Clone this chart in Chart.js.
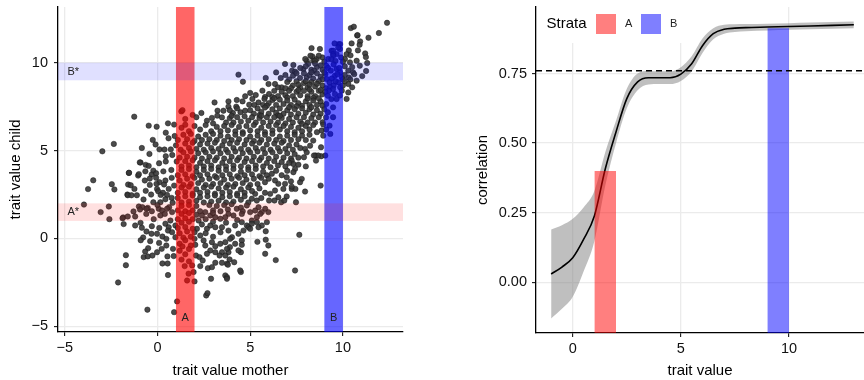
<!DOCTYPE html>
<html>
<head>
<meta charset="utf-8">
<script src="https://cdn.jsdelivr.net/npm/chart.js@4.4.1/dist/chart.umd.min.js"></script>
<style>
  html, body { margin: 0; padding: 0; background: #fff; }
  #wrap { position: relative; width: 864px; height: 380px; overflow: hidden; }
  #left { position: absolute; left: 0; top: 0; }
  #right { position: absolute; left: 430px; top: 0; }
</style>
</head>
<body>
<div id="wrap">
  <canvas id="left" width="430" height="380"></canvas>
  <canvas id="right" width="434" height="380"></canvas>
</div>
<script>
// ---- left panel: trait value mother (x) vs child (y) ----
const scatterPoints = [
  [10.43,11.97],[10.59,12.05],[11.94,11.69],[12.38,12.27],[10.77,11.55],[11.38,11.42],
  [10.47,11.1],[10.93,11.21],[10.9,11.02],[9.77,11.06],[9.85,11.06],[9.84,10.78],[10.81,10.7],[10.32,10.7],[9.39,10.68],[9.48,10.68],[8.31,10.83],[8.76,10.78],[9.75,10.87],[10.2,10.49],[10.41,10.42],[9.66,10.49],[11.2,10.53],[11.24,10.32],[9.47,10.49],[8.35,10.36],[10.79,11.57],[9.55,11.1],
  [9.48,10.4],[9.21,10.21],[8.4,10.11],[8.05,10.11],[8.59,10.21],[10.11,10.21],[10.38,10.02],[10.74,10.11],[9.38,10.2],[7.97,10.21],[8.49,10.11],[8.9,10.3],[9.0,10.05],[8.7,10.4],[9.9,10.3],[10.0,10.05],[9.6,10.1],[8.25,10.4],
  [10.91,9.83],[11.31,9.98],[9.1,9.83],[7.33,9.87],[6.88,9.93],[8.13,9.93],[7.87,9.64],[7.26,9.55],[7.42,9.49],[9.66,9.64],[10.29,9.55],[10.55,9.45],[11.25,9.53],[8.3,9.6],[8.6,9.75],[8.9,9.6],[9.2,9.7],[9.5,9.9],[9.8,9.7],[10.1,9.8],[8.0,9.8],[8.5,9.95],[8.8,9.85],[7.7,9.7],[10.5,9.75],[9.35,9.55],[8.45,9.55],
  [4.37,9.32],[5.84,9.13],[6.65,9.13],[6.4,9.45],[7.31,9.26],[7.69,9.13],[8.05,9.17],[11.04,9.24],[10.61,9.35],[10.32,9.16],[9.57,9.26],[9.85,9.45],[9.06,9.36],[9.13,9.07],[9.94,9.17],[7.9,9.4],[8.2,9.3],[8.4,9.1],[8.6,9.4],[8.8,9.2],[9.0,9.45],[9.4,9.1],[9.7,9.35],[10.1,9.3],[10.0,9.05],[7.5,9.4],[8.3,9.45],[8.9,9.05],[10.4,9.05],[6.9,9.3],[7.1,9.05],
  [4.61,8.92],[5.99,8.79],[6.34,8.79],[6.7,8.6],[10.74,8.98],[10.29,8.79],[9.75,8.88],[9.28,8.88],[9.85,8.6],[7.0,8.9],[7.3,8.7],[7.5,8.95],[7.7,8.6],[7.9,8.85],[8.1,8.6],[8.3,8.9],[8.5,8.65],[8.7,8.95],[8.9,8.7],[9.1,8.55],[9.5,8.7],[10.0,8.7],[10.1,8.95],[6.9,8.55],[7.2,8.55],[8.0,8.95],[8.6,8.8],[9.3,8.6],[10.5,8.6],[6.5,8.6],[9.6,8.95],[8.2,8.75],[7.6,8.75],
  [5.0,8.28],[5.3,8.16],[4.73,8.09],[5.66,8.41],[6.02,8.22],[10.29,8.31],[9.84,8.13],[9.47,8.5],[9.19,8.12],[9.94,8.41],[9.24,8.41],[9.57,8.22],[6.3,8.4],[6.5,8.1],[6.7,8.35],[6.9,8.15],[7.1,8.4],[7.3,8.1],[7.5,8.35],[7.7,8.15],[7.9,8.4],[8.1,8.1],[8.3,8.35],[8.5,8.1],[8.7,8.4],[8.9,8.2],[6.2,8.05],[7.6,8.45],[8.2,8.47],[8.8,8.45],[9.05,8.35],[5.8,8.05],[7.0,8.02],[8.4,8.0],
  [4.28,7.88],[3.83,7.8],[3.08,7.74],[4.59,7.8],[5.12,7.94],[4.95,7.61],[5.22,7.6],[5.45,7.74],[5.77,7.94],[6.2,7.88],[9.38,7.93],[9.1,7.65],[9.66,7.93],[10.2,7.94],[3.83,7.5],[4.25,7.5],[5.7,7.6],[6.0,7.7],[6.4,7.6],[6.6,7.9],[6.8,7.65],[7.0,7.85],[7.2,7.6],[7.4,7.9],[7.6,7.7],[7.8,7.55],[8.0,7.8],[8.2,7.6],[8.4,7.85],[8.6,7.6],[8.8,7.8],[8.9,7.55],[6.3,7.98],[7.5,7.52],[8.1,7.97],[5.9,7.55],[8.7,7.98],
  [3.24,7.27],[3.56,7.27],[4.07,7.14],[4.48,7.18],[4.73,7.27],[2.37,7.14],[1.29,7.23],[1.9,7.03],[9.47,7.46],[9.19,7.18],[5.0,7.3],[5.2,7.1],[5.4,7.4],[5.6,7.2],[5.8,7.45],[6.0,7.1],[6.2,7.35],[6.4,7.15],[6.6,7.4],[6.8,7.1],[7.0,7.3],[7.2,7.05],[7.4,7.35],[7.6,7.1],[7.8,7.4],[8.0,7.15],[8.2,7.35],[8.4,7.05],[8.6,7.3],[8.8,7.1],[4.3,7.4],[3.9,7.3],[5.5,7.02],[6.5,7.0],[7.1,7.47],[8.3,7.47],[9.0,7.35],[1.35,7.3],
  [2.67,6.7],[2.94,6.86],[3.23,6.99],[3.48,6.89],[9.47,6.9],[9.09,6.89],[8.91,6.61],[3.7,6.6],[3.9,6.85],[4.1,6.6],[4.3,6.9],[4.5,6.65],[4.7,6.95],[4.9,6.7],[5.1,6.9],[5.3,6.6],[5.5,6.85],[5.7,6.6],[5.9,6.9],[6.1,6.65],[6.3,6.9],[6.5,6.6],[6.7,6.85],[6.9,6.55],[7.1,6.8],[7.3,6.6],[7.5,6.9],[7.7,6.65],[7.9,6.9],[8.1,6.6],[8.3,6.85],[8.5,6.6],[8.7,6.9],[2.1,6.9],[1.5,6.8],[3.0,6.55],[4.0,6.98],[5.6,6.98],[6.6,6.98],[7.8,6.52],[-1.25,6.93],
  [-0.47,6.42],[-0.04,6.36],[0.57,6.55],[0.9,6.48],[0.45,6.02],[9.28,6.42],[8.85,6.14],[8.94,6.48],[1.3,6.3],[1.7,6.1],[2.0,6.4],[2.3,6.2],[2.6,6.45],[2.9,6.1],[3.2,6.35],[3.4,6.1],[3.6,6.4],[3.8,6.15],[4.0,6.45],[4.2,6.1],[4.4,6.35],[4.6,6.05],[4.8,6.4],[5.0,6.15],[5.2,6.45],[5.4,6.1],[5.6,6.3],[5.8,6.05],[6.0,6.4],[6.2,6.15],[6.4,6.45],[6.6,6.2],[6.8,6.4],[7.0,6.1],[7.2,6.35],[7.4,6.05],[7.6,6.3],[7.8,6.1],[8.0,6.4],[8.2,6.2],[8.4,6.45],[8.6,6.05],[1.5,6.47],[9.1,6.2],
  [-0.25,5.61],[0.93,5.83],[9.32,5.95],[8.94,5.85],[8.4,5.57],[1.1,5.6],[1.4,5.9],[1.6,5.65],[1.8,5.95],[2.0,5.55],[2.2,5.8],[2.4,5.6],[2.6,5.9],[2.8,5.65],[3.0,5.95],[3.2,5.6],[3.4,5.85],[3.6,5.55],[3.8,5.8],[4.0,5.6],[4.2,5.9],[4.4,5.65],[4.6,5.95],[4.8,5.6],[5.0,5.8],[5.2,5.55],[5.4,5.85],[5.6,5.6],[5.8,5.9],[6.0,5.65],[6.2,5.95],[6.4,5.6],[6.6,5.8],[6.8,5.55],[7.0,5.85],[7.2,5.6],[7.4,5.9],[7.6,5.65],[7.8,5.85],[8.0,5.6],[8.2,5.9],[0.6,5.7],
  [-2.35,5.38],[-0.84,5.15],[0.11,5.07],[0.38,5.06],[0.72,5.07],[-2.97,4.96],[8.82,5.19],[7.96,5.1],[8.23,5.28],[1.0,5.3],[1.25,5.05],[1.5,5.4],[1.7,5.15],[1.9,5.45],[2.1,5.1],[2.3,5.35],[2.5,5.05],[2.7,5.4],[2.9,5.15],[3.1,5.45],[3.3,5.1],[3.5,5.3],[3.7,5.05],[3.9,5.4],[4.1,5.15],[4.3,5.45],[4.5,5.1],[4.7,5.35],[4.9,5.05],[5.1,5.4],[5.3,5.15],[5.5,5.45],[5.7,5.1],[5.9,5.35],[6.1,5.05],[6.3,5.4],[6.5,5.15],[6.7,5.45],[6.9,5.1],[7.1,5.3],[7.3,5.05],[7.5,5.35],[7.7,5.15],[-0.1,5.35],
  [-0.43,4.81],[0.45,4.68],[8.83,4.68],[9.05,4.72],[8.53,4.72],[8.67,4.72],[7.9,4.62],[8.05,4.9],[1.2,4.6],[1.4,4.9],[1.6,4.65],[1.8,4.95],[2.0,4.6],[2.2,4.85],[2.4,4.55],[2.6,4.9],[2.8,4.65],[3.0,4.95],[3.2,4.6],[3.4,4.85],[3.6,4.55],[3.8,4.9],[4.0,4.65],[4.2,4.95],[4.4,4.6],[4.6,4.85],[4.8,4.55],[5.0,4.9],[5.2,4.65],[5.4,4.95],[5.6,4.6],[5.8,4.85],[6.0,4.55],[6.2,4.9],[6.4,4.65],[6.6,4.95],[6.8,4.6],[7.0,4.85],[7.2,4.55],[7.4,4.8],[7.6,4.6],[0.8,4.75],[8.44,4.72],
  [0.45,4.38],[1.04,4.38],[-0.91,4.32],[-0.63,4.19],[-0.47,4.13],[0.09,4.28],[8.55,4.43],[7.24,4.43],[7.33,4.24],[1.3,4.1],[1.5,4.4],[1.7,4.15],[1.9,4.45],[2.1,4.05],[2.3,4.3],[2.5,4.1],[2.7,4.4],[2.9,4.15],[3.1,4.45],[3.3,4.05],[3.5,4.3],[3.7,4.1],[3.9,4.4],[4.1,4.15],[4.3,4.45],[4.5,4.1],[4.7,4.35],[4.9,4.05],[5.1,4.4],[5.3,4.15],[5.5,4.45],[5.7,4.1],[5.9,4.3],[6.1,4.05],[6.3,4.4],[6.5,4.15],[6.7,4.35],[6.9,4.1],[7.1,4.3],[7.6,4.2],[8.0,4.1],[-0.95,4.33],
  [-0.22,3.86],[-1.54,3.73],[-1.04,3.58],[-0.65,3.82],[-0.31,3.64],[-0.07,3.71],[0.32,3.82],[0.75,3.9],[7.42,3.96],[7.33,3.77],[6.17,3.68],[-1.53,3.74],[-1.0,3.66],[1.1,3.6],[1.3,3.9],[1.5,3.65],[1.7,3.95],[1.9,3.55],[2.1,3.8],[2.3,3.6],[2.5,3.9],[2.7,3.65],[2.9,3.95],[3.1,3.55],[3.3,3.85],[3.5,3.6],[3.7,3.9],[3.9,3.65],[4.1,3.95],[4.3,3.55],[4.5,3.8],[4.7,3.6],[4.9,3.9],[5.1,3.65],[5.3,3.95],[5.5,3.55],[5.7,3.8],[5.9,3.6],[6.4,3.85],[6.7,3.6],[7.0,3.85],
  [-3.46,3.31],[-0.68,3.3],[-0.41,3.41],[-0.07,3.45],[0.11,3.2],[0.43,3.3],[0.77,3.45],[-2.46,3.09],[-1.58,3.07],[-1.44,3.03],[-0.41,3.05],[-0.05,3.11],[0.36,3.07],[0.9,3.01],[7.78,3.39],[7.69,3.2],[6.88,3.11],[6.52,3.11],[6.34,3.3],[6.97,3.48],[8.8,3.01],[1.2,3.3],[1.4,3.05],[1.6,3.4],[1.8,3.1],[2.0,3.45],[2.2,3.15],[2.4,3.35],[2.6,3.05],[2.8,3.4],[3.0,3.1],[3.2,3.45],[3.4,3.15],[3.6,3.35],[3.8,3.05],[4.0,3.4],[4.2,3.1],[4.4,3.45],[4.6,3.15],[4.8,3.35],[5.0,3.05],[5.2,3.4],[5.4,3.1],[5.6,3.45],[5.8,3.2],[6.0,3.4],[7.2,3.25],
  [-3.74,2.81],[-2.32,2.79],[-1.24,2.82],[-0.02,2.82],[0.61,2.82],[7.96,2.67],[7.24,2.82],[7.44,2.82],[7.24,2.95],[6.79,2.82],[6.34,2.73],[6.08,2.54],[5.27,2.54],[-0.63,2.71],[0.04,2.69],[-1.62,2.5],[1.1,2.6],[1.3,2.9],[1.5,2.65],[1.7,2.95],[1.9,2.55],[2.1,2.8],[2.3,2.6],[2.5,2.9],[2.7,2.65],[2.9,2.95],[3.1,2.55],[3.3,2.85],[3.5,2.6],[3.7,2.9],[3.9,2.65],[4.1,2.95],[4.3,2.55],[4.5,2.8],[4.7,2.6],[4.9,2.9],[5.1,2.7],[5.5,2.85],[5.8,2.6],[0.3,2.6],[-0.34,2.5],[0.18,2.48],[0.52,2.48],
  [-1.6,2.46],[-1.4,2.46],[-1.11,2.46],[-0.75,2.22],[0.77,2.31],[-0.22,2.06],[0.16,2.06],[0.43,2.23],[0.82,2.03],[7.47,2.06],[6.97,2.39],[6.67,2.06],[6.84,2.16],[6.52,2.35],[6.31,2.16],[6.02,2.16],[5.36,2.16],[5.09,2.26],[1.1,2.3],[1.3,2.05],[1.5,2.4],[1.7,2.1],[1.9,2.45],[2.1,2.15],[2.3,2.35],[2.5,2.05],[2.7,2.4],[2.9,2.1],[3.1,2.45],[3.3,2.15],[3.5,2.35],[3.7,2.05],[3.9,2.4],[4.1,2.1],[4.3,2.45],[4.5,2.2],[4.7,2.4],[4.9,2.05],[5.6,2.3],
  [-3.96,1.93],[-2.62,1.82],[-1.0,1.82],[-0.81,1.78],[-0.52,1.74],[0.63,1.78],[-0.59,1.69],[0.07,1.69],[0.25,1.59],[0.52,1.69],[0.79,1.5],[-3.06,1.5],[-1.29,1.54],[-0.94,1.65],[4.82,1.88],[5.45,1.78],[5.27,1.59],[5.81,1.69],[5.98,1.5],[5.63,1.5],[5.0,1.5],[4.28,1.69],[2.58,1.5],[1.1,1.6],[1.3,1.85],[1.5,1.55],[1.7,1.9],[1.9,1.6],[2.1,1.85],[2.3,1.55],[2.8,1.9],[3.0,1.6],[3.2,1.85],[3.4,1.55],[3.6,1.9],[3.8,1.65],[4.0,1.95],[4.5,1.75],[4.6,1.55],[0.0,1.9],[-0.3,1.55],
  [-2.59,1.1],[-1.85,1.2],[-1.2,1.25],[-1.88,1.15],[-1.6,1.25],[0.16,1.31],[0.7,1.02],[4.55,1.4],[4.1,1.31],[3.83,1.4],[3.66,1.21],[3.39,1.12],[3.12,1.21],[2.85,1.31],[2.4,1.31],[2.22,1.02],[5.09,1.02],[5.54,1.4],[5.36,1.21],[-0.6,1.4],[-0.2,1.1],[0.4,1.4],[1.1,1.1],[1.3,1.4],[1.5,1.15],[1.7,1.45],[1.9,1.1],[2.1,1.35],[2.6,1.1],[3.0,1.45],[4.3,1.05],
  [-1.82,0.82],[-1.2,0.74],[-0.91,0.89],[-0.84,0.61],[0.43,0.84],[0.61,0.64],[0.97,0.74],[2.67,0.55],[2.85,0.74],[3.12,0.64],[3.48,0.64],[4.19,0.74],[4.55,0.93],[4.82,0.74],[5.36,0.93],[5.63,0.74],[5.9,0.93],[2.13,0.55],[4.91,0.64],[5.09,0.84],[5.0,0.55],[5.45,0.64],[1.1,0.6],[1.3,0.9],[1.5,0.65],[1.7,0.95],[1.9,0.55],[2.4,0.8],[-0.3,0.7],[0.1,0.6],[3.0,0.95],[3.7,0.9],
  [-0.59,0.4],[-0.32,0.27],[-0.02,0.27],[0.27,0.11],[0.57,0.45],[0.79,0.36],[-0.77,0.06],[0.97,0.07],[2.31,0.17],[3.83,0.45],[4.02,0.07],[4.37,0.27],[4.64,0.45],[5.84,0.41],[7.65,0.21],[1.2,0.3],[1.4,0.05],[1.6,0.4],[1.8,0.1],[2.0,0.35],[2.6,0.3],[3.0,0.1],[3.4,0.35],
  [0.48,-0.02],[-0.9,-0.1],[-0.39,-0.15],[0.09,-0.25],[0.48,-0.4],[2.0,-0.02],[2.04,-0.36],[2.49,-0.11],[2.58,-0.4],[2.94,-0.21],[3.12,-0.44],[3.39,-0.3],[3.66,-0.21],[3.92,-0.02],[4.19,-0.3],[4.55,-0.11],[4.55,-0.36],[3.91,-0.49],[5.39,-0.19],[5.84,-0.07],[5.98,-0.4],[1.2,-0.3],[1.5,-0.1],[1.8,-0.4],[1.35,-0.45],
  [-0.5,-0.55],[-0.66,-0.74],[-0.02,-0.78],[0.23,-0.59],[0.84,-0.59],[3.83,-0.78],[3.75,-0.59],[4.5,-0.78],[4.37,-0.68],[3.48,-0.78],[3.12,-0.78],[2.85,-0.68],[2.67,-0.87],[2.08,-0.97],[3.66,-0.97],[3.35,-0.97],[5.81,-0.87],[1.2,-0.7],[1.5,-0.9],[1.7,-0.6],[-1.7,-0.95],
  [-0.74,-1.06],[-0.52,-1.02],[-0.27,-0.97],[0.54,-1.02],[0.88,-1.0],[0.27,-1.42],[0.55,-1.42],[2.27,-1.06],[2.44,-1.25],[3.89,-1.19],[4.14,-1.35],[3.75,-1.44],[3.12,-1.38],[3.48,-1.38],[3.8,-1.49],[6.38,-1.23],[1.3,-1.2],[1.7,-1.3],
  [-1.7,-1.52],[2.31,-1.57],[2.72,-1.69],[2.94,-1.63],[1.47,-1.57],[1.87,-1.53],[1.95,-1.91],[1.68,-2.0],[4.5,-1.91],[4.46,-1.82],[7.42,-1.82],[3.66,-2.1],[0.57,-2.08],
  [-2.12,-2.5],[3.75,-2.2],[3.75,-2.29],[2.89,-2.29],[1.6,-2.39],[2.0,-2.44],[2.63,-3.24],[2.7,-3.11],[1.06,-3.58],[-0.54,-4.05],[0.9,-4.19]
];

// strata: A and B on the mother's trait, A* and B* on the child's trait
const strataNames = ['A', 'B'];
const strataStarNames = ['A*', 'B*'];
const strataLow = [1, 9];
const strataHigh = [2, 10];

const leftTicks = [-5, 0, 5, 10];
const leftTickLabels = ['\u22125', '0', '5', '10'];

// ---- right panel: correlation along the trait value (smooth + ribbon) ----
const traitValue  = [-1, -0.5, 0, 0.5, 1, 1.5, 2, 2.5, 3, 3.5, 4, 4.5, 5, 5.5, 6, 6.5, 7, 7.5, 8, 9, 10, 11, 12, 13];
const correlation = [0.03, 0.055, 0.088, 0.154, 0.238, 0.406, 0.54, 0.66, 0.72, 0.735, 0.735, 0.735, 0.748, 0.785, 0.85, 0.893, 0.909, 0.913, 0.915, 0.917, 0.919, 0.921, 0.923, 0.925];
const ciHigh      = [0.19, 0.205, 0.228, 0.269, 0.328, 0.466, 0.58, 0.695, 0.75, 0.759, 0.758, 0.758, 0.773, 0.812, 0.876, 0.913, 0.925, 0.927, 0.928, 0.929, 0.931, 0.933, 0.935, 0.937];
const ciLow       = [-0.13, -0.095, -0.052, 0.039, 0.148, 0.346, 0.5, 0.625, 0.69, 0.711, 0.712, 0.712, 0.723, 0.758, 0.824, 0.873, 0.893, 0.899, 0.902, 0.905, 0.907, 0.909, 0.911, 0.913];
const strataCorr  = [0.40, 0.913]; // height of the A / B bars
const overallCorr = 0.76;           // dashed reference line

const rightXTicks = [0, 5, 10];
const rightXTickLabels = ['0', '5', '10'];
const rightYTicks = [0, 0.25, 0.5, 0.75];
const rightYTickLabels = ['0.00', '0.25', '0.50', '0.75'];

// ---- styling ----
const FONT = "'Liberation Sans', Arial, Helvetica, sans-serif";
const RED = [255, 0, 0];
const BLUE = [0, 0, 255];
const rgba = (c, a) => `rgba(${c[0]},${c[1]},${c[2]},${a})`;
const strataColors = [RED, BLUE];

function fixedTicks(values) {
  return scale => { scale.ticks = values.map(v => ({ value: v })); };
}

// fixed axis box size, and no extra edge padding for the tick labels
function fitX(h) {
  return s => { s.height = h; s.paddingLeft = 0; s.paddingRight = 0; };
}
function fitY(w) {
  return s => { s.width = w; s.paddingTop = 0; s.paddingBottom = 0; };
}

function axis(min, max, tickValues, tickLabels, title, opts) {
  return {
    type: 'linear',
    min, max,
    afterBuildTicks: fixedTicks(tickValues),
    afterFit: opts.fit,
    grid: { color: '#ebebeb', lineWidth: 1.3, tickLength: 4, tickColor: '#000', tickWidth: 1 },
    border: { display: true, color: '#000', width: 1.3 },
    ticks: {
      color: '#111', padding: opts.tickPad, maxRotation: 0, autoSkip: false,
      font: { family: FONT, size: 14.5 },
      callback: (v, i) => tickLabels[i]
    },
    title: {
      display: true, text: title, color: '#000',
      font: { family: FONT, size: 15 },
      padding: { top: opts.titlePad, bottom: 0 }
    }
  };
}

// bands over the scatter: vertical A/B first, then the light horizontal A*/B*
const bandsPlugin = {
  id: 'bands',
  afterDatasetsDraw(chart) {
    const { ctx, chartArea: a, scales: { x, y } } = chart;
    ctx.save();
    ctx.beginPath();
    ctx.rect(a.left, a.top, a.right - a.left, a.bottom - a.top);
    ctx.clip();
    strataLow.forEach((lo, i) => {
      const x0 = x.getPixelForValue(lo), x1 = x.getPixelForValue(strataHigh[i]);
      ctx.fillStyle = rgba(strataColors[i], 0.6);
      ctx.fillRect(x0, a.top, x1 - x0, a.bottom - a.top);
    });
    strataLow.forEach((lo, i) => {
      const y0 = y.getPixelForValue(strataHigh[i]), y1 = y.getPixelForValue(lo);
      ctx.fillStyle = rgba(strataColors[i], 0.12);
      ctx.fillRect(a.left, y0, a.right - a.left, y1 - y0);
    });
    ctx.fillStyle = '#222';
    ctx.font = `11px ${FONT}`;
    ctx.textBaseline = 'middle';
    ctx.textAlign = 'center';
    strataNames.forEach((n, i) => {
      const mid = (strataLow[i] + strataHigh[i]) / 2;
      ctx.fillText(n, x.getPixelForValue(mid), y.getPixelForValue(-4.5));
    });
    ctx.textAlign = 'left';
    strataStarNames.forEach((n, i) => {
      const mid = (strataLow[i] + strataHigh[i]) / 2;
      ctx.fillText(n, x.getPixelForValue(-4.85), y.getPixelForValue(mid));
    });
    ctx.restore();
  }
};

new Chart(document.getElementById('left'), {
  type: 'scatter',
  data: {
    datasets: [{
      data: scatterPoints.map(([x, y]) => ({ x, y })),
      pointRadius: 2.7,
      pointBackgroundColor: 'rgba(55,55,55,0.9)',
      pointBorderColor: 'rgba(25,25,25,0.85)',
      pointBorderWidth: 0.6
    }]
  },
  options: {
    responsive: false, animation: false, devicePixelRatio: 1,
    layout: { padding: { top: 7, right: 27, left: 0, bottom: 0 } },
    plugins: { legend: { display: false }, tooltip: { enabled: false } },
    scales: {
      x: axis(-5.36, 13.24, leftTicks, leftTickLabels, 'trait value mother',
        { fit: fitX(48), tickPad: 3, titlePad: 0 }),
      y: axis(-5.32, 13.17, leftTicks, leftTickLabels, 'trait value child',
        { fit: fitY(58), tickPad: 6, titlePad: 7 })
    }
  },
  plugins: [bandsPlugin]
});

// legend box "Strata  [A]  [B]" inside the top-left of the right panel
const strataLegend = {
  id: 'strataLegend',
  beforeDatasetsDraw(chart) {
    const { ctx, chartArea: a } = chart;
    ctx.save();
    ctx.fillStyle = '#fff';
    ctx.fillRect(a.left + 1, a.top, 147, 36);
    ctx.textBaseline = 'middle';
    ctx.textAlign = 'left';
    ctx.fillStyle = '#000';
    ctx.font = `15px ${FONT}`;
    ctx.fillText('Strata', a.left + 10.5, a.top + 17);
    ctx.font = `11px ${FONT}`;
    strataNames.forEach((n, i) => {
      const sx = a.left + 60 + i * 45;
      ctx.fillStyle = rgba(strataColors[i], 0.5);
      ctx.fillRect(sx, a.top + 7, 20, 20);
      ctx.fillStyle = '#222';
      ctx.fillText(n, sx + 29, a.top + 17);
    });
    ctx.restore();
  }
};

const R_XMIN = -1.7, R_XMAX = 13.47;
const toXY = (xs, ys) => xs.map((x, i) => ({ x, y: ys[i] }));
const flat = { pointRadius: 0, borderWidth: 0, cubicInterpolationMode: 'monotone' };

new Chart(document.getElementById('right'), {
  type: 'line',
  data: {
    datasets: [
      { ...flat, data: toXY(traitValue, ciHigh), fill: '+1', backgroundColor: 'rgba(128,128,128,0.5)', order: 3 },
      { ...flat, data: toXY(traitValue, ciLow), fill: false, order: 3 },
      { ...flat, data: toXY(traitValue, correlation), fill: false, borderColor: '#000', borderWidth: 1.6, order: 2 },
      ...strataNames.map((n, i) => ({
        ...flat,
        data: [{ x: strataLow[i], y: strataCorr[i] }, { x: strataHigh[i], y: strataCorr[i] }],
        fill: 'start', backgroundColor: rgba(strataColors[i], 0.5), order: 1
      })),
      { pointRadius: 0, data: [{ x: R_XMIN, y: overallCorr }, { x: R_XMAX, y: overallCorr }],
        borderColor: '#000', borderWidth: 1.5, borderDash: [6, 4], fill: false, order: 0 }
    ]
  },
  options: {
    responsive: false, animation: false, devicePixelRatio: 1,
    layout: { padding: { top: 7, right: 0, left: 0, bottom: 0 } },
    plugins: { legend: { display: false }, tooltip: { enabled: false } },
    scales: {
      x: axis(R_XMIN, R_XMAX, rightXTicks, rightXTickLabels, 'trait value',
        { fit: fitX(47), tickPad: 3, titlePad: 0 }),
      y: axis(-0.182, 0.989, rightYTicks, rightYTickLabels, 'correlation',
        { fit: fitY(106), tickPad: 5, titlePad: 44 })
    }
  },
  plugins: [strataLegend]
});
</script>
</body>
</html>
